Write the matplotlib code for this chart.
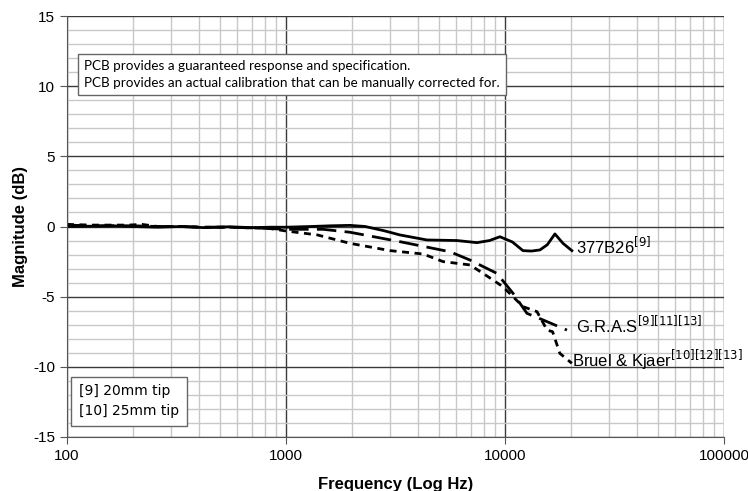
import matplotlib.pyplot as plt
from matplotlib.ticker import LogLocator, MultipleLocator, FixedLocator

# frequency (Hz) / magnitude (dB)
pcb_f = [100, 130, 160, 200, 260, 330, 420, 550, 700, 850, 1000, 1300, 1600, 1960, 2300,
         2800, 3310, 4400, 6030, 7450, 8500, 9480, 10800, 12080, 13200, 14440, 15600,
         16900, 18400, 20200]
pcb_db = [0.0, 0.02, 0.05, 0.0, -0.05, 0.0, -0.08, -0.02, -0.08, -0.05, -0.05, 0.0, 0.05,
          0.08, 0.0, -0.3, -0.6, -0.96, -1.0, -1.15, -1.0, -0.73, -1.1, -1.72, -1.75,
          -1.67, -1.3, -0.53, -1.2, -1.72]

gras_f = [100, 130, 160, 200, 260, 330, 420, 550, 700, 850, 1000, 1475, 1960, 3310,
          5610, 6920, 9180, 10880, 12600, 14920, 19180]
gras_db = [0.1, 0.05, 0.05, 0.05, 0.0, 0.0, -0.05, -0.05, -0.1, -0.15, -0.2, -0.2, -0.41,
           -1.08, -1.8, -2.39, -3.34, -4.76, -6.19, -6.66, -7.38]

bk_f = [100, 130, 160, 190, 220, 260, 330, 420, 550, 700, 850, 1000, 1390, 1960, 2990,
        4230, 5210, 6920, 7940, 9790, 12080, 14000, 15560, 16500, 17800, 20200]
bk_db = [0.15, 0.1, 0.1, 0.1, 0.15, 0.0, 0.0, -0.05, -0.05, -0.1, -0.15, -0.32, -0.6,
         -1.2, -1.72, -1.96, -2.5, -2.74, -3.34, -4.29, -5.71, -6.07, -7.38, -7.5,
         -9.04, -9.75]

plt.rcParams['font.family'] = ['Liberation Sans', 'DejaVu Sans']
plt.rcParams['axes.unicode_minus'] = False

fig = plt.figure(figsize=(7.48, 4.91), dpi=100)
ax = fig.add_axes([67 / 748, 1 - 437 / 491, 657 / 748, 421 / 491])

ax.plot(pcb_f, pcb_db, color='black', lw=2)
ax.plot(gras_f, gras_db, color='black', lw=2, dashes=(7, 3))
ax.plot(bk_f, bk_db, color='black', lw=2, dashes=(2.5, 2))

ax.set_xscale('log')
ax.set_xlim(100, 100000)
ax.set_ylim(-15, 15)
ax.xaxis.set_major_locator(FixedLocator([100, 1000, 10000, 100000]))
ax.xaxis.set_minor_locator(LogLocator(base=10, subs=range(2, 10), numticks=20))
ax.xaxis.set_major_formatter(plt.FuncFormatter(lambda v, p: f'{int(v)}'))
ax.xaxis.set_minor_formatter(plt.NullFormatter())
ax.yaxis.set_major_locator(MultipleLocator(5))
ax.yaxis.set_minor_locator(MultipleLocator(1))

ax.grid(True, which='minor', color='#c8c8c8', lw=1)
ax.grid(True, which='major', color='#3a3a3a', lw=1)
ax.set_axisbelow(True)
for s in ['top', 'right']:
    ax.spines[s].set_visible(False)
for s in ['left', 'bottom']:
    ax.spines[s].set_color('#555555')
ax.tick_params(which='major', length=5, color='#555555', labelsize=11)
ax.tick_params(which='minor', length=0)

ax.set_xlabel('Frequency (Log Hz)', fontsize=12, fontweight='bold', labelpad=10)
ax.set_ylabel('Magnitude (dB)', fontsize=12, fontweight='bold', labelpad=4)

ax.text(21000, -1.4, r'377B26$^{[9]}$', fontsize=12, va='center', ha='left')
ax.text(21000, -7.0, r'G.R.A.S$^{[9][11][13]}$', fontsize=12, va='center', ha='left')
ax.text(20300, -9.5, r'Bruel & Kjaer$^{[10][12][13]}$', fontsize=12, va='center', ha='left')

ax.text(0.026, 0.895, 'PCB provides a guaranteed response and specification.\n'
        'PCB provides an actual calibration that can be manually corrected for.',
        transform=ax.transAxes, fontsize=9.7, family=['Lato', 'DejaVu Sans'],
        va='top', ha='left', linespacing=1.5,
        bbox=dict(boxstyle='square,pad=0.45', fc='white', ec='#666666', lw=1))
ax.text(0.018, 0.125, '[9] 20mm tip\n[10] 25mm tip',
        transform=ax.transAxes, fontsize=10, family=['DejaVu Sans'],
        va='top', ha='left', linespacing=1.5,
        bbox=dict(boxstyle='square,pad=0.55', fc='white', ec='#666666', lw=1))

fig.savefig('out.png', dpi=100)
